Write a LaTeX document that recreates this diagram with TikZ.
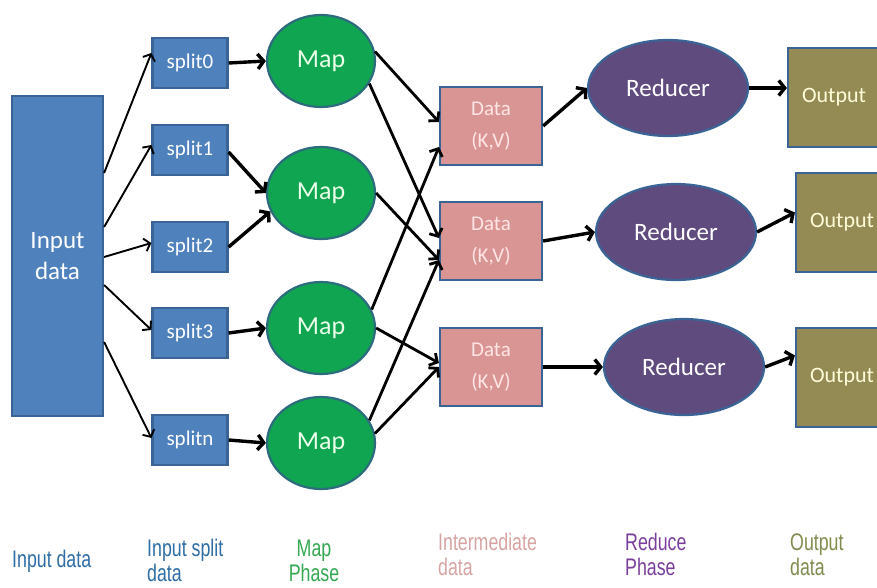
\documentclass[tikz,border=0pt]{standalone}
\usepackage{fontspec}
\setmainfont{Carlito}
\newfontfamily\lblfont[FakeStretch=0.74]{Liberation Sans}
\usetikzlibrary{arrows.meta,shapes.geometric}
\definecolor{bluefill}{HTML}{4F81BD}
\definecolor{blueedge}{HTML}{3B6496}
\definecolor{greenfill}{HTML}{10A550}
\definecolor{greenedge}{HTML}{2D6C7D}
\definecolor{pinkfill}{HTML}{D99594}
\definecolor{purplefill}{HTML}{5F4B7E}
\definecolor{olivefill}{HTML}{948A54}
\definecolor{lblblue}{HTML}{2E6DA6}
\definecolor{lblgreen}{HTML}{35A853}
\definecolor{lblpink}{HTML}{D8A3A3}
\definecolor{lblpurple}{HTML}{7A3E9D}
\definecolor{lblolive}{HTML}{7F8C4E}
\tikzset{
  box/.style={rectangle, line width=2.2pt, draw=blueedge, inner sep=0pt},
  inbox/.style={box, fill=bluefill, text=white, font=\fontsize{25}{31}\selectfont, align=center},
  splitbox/.style={box, fill=bluefill, text=white, minimum width=75pt, minimum height=50pt, font=\fontsize{21}{24}\selectfont},
  mapnode/.style={ellipse, line width=2.2pt, draw=greenedge, fill=greenfill, text={green!8!white}, minimum width=108pt, minimum height=92pt, inner sep=0pt, font=\fontsize{26}{28}\selectfont},
  databox/.style={box, fill=pinkfill, text={red!10!white}, minimum width=102pt, minimum height=78pt, align=center, font=\fontsize{21}{32}\selectfont},
  rednode/.style={ellipse, line width=2.2pt, draw=blueedge, fill=purplefill, text=white, minimum width=160pt, minimum height=96pt, inner sep=0pt, font=\fontsize{25}{28}\selectfont},
  outbox/.style={box, fill=olivefill, text={yellow!15!white}, minimum width=92pt, minimum height=99pt, font=\fontsize{22}{26}\selectfont},
  lbl/.style={inner sep=0pt, font=\lblfont\fontsize{24}{25}\selectfont},
  thinarr/.style={line width=1.9pt, -{Straight Barb[length=5.5pt,width=13pt]}},
  medarr/.style={line width=2.8pt, -{Straight Barb[length=6pt,width=14pt]}},
  thickarr/.style={line width=3.4pt, -{Straight Barb[length=6pt,width=15pt]}}
}
\begin{document}
\begin{tikzpicture}[x=1pt,y=-1pt]
\useasboundingbox (0,0) rectangle (877,587);
\clip (0,0) rectangle (877,587);
\fill[white] (0,0) rectangle (877,587);
% input
\node[inbox, minimum width=91pt, minimum height=320pt] (in) at (57.5,256) {Input\\data};
% splits
\node[splitbox] (s0) at (190,63) {split0};
\node[splitbox] (s1) at (190,150) {split1};
\node[splitbox] (s2) at (190,247) {split2};
\node[splitbox] (s3) at (190,333) {split3};
\node[splitbox] (sn) at (190,440) {splitn};
% maps
\node[mapnode] (m0) at (321,61) {Map};
\node[mapnode] (m1) at (321,193) {Map};
\node[mapnode] (m2) at (321,328) {Map};
\node[mapnode] (m3) at (321,443) {Map};
% data
\node[databox] (d1) at (491,126) {Data\\(K,V)};
\node[databox] (d2) at (491,241) {Data\\(K,V)};
\node[databox] (d3) at (491,367) {Data\\(K,V)};
% reducers
\node[rednode] (r1) at (668,88) {Reducer};
\node[rednode] (r2) at (676,232) {Reducer};
\node[rednode] (r3) at (684,367) {Reducer};
% outputs
\node[outbox] (o1) at (834,97.5) {Output};
\node[outbox] (o2) at (842,222.5) {Output};
\node[outbox] (o3) at (842,377.5) {Output};
% input -> splits
\draw[thinarr] ([yshift=83pt]in.east) -- ([yshift=10pt]s0.west);
\draw[thinarr] ([yshift=29pt]in.east) -- ([yshift=5pt]s1.west);
\draw[thinarr] ([yshift=-1pt]in.east) -- ([yshift=4pt]s2.west);
\draw[thinarr] ([yshift=-29pt]in.east) -- ([yshift=3pt]s3.west);
\draw[thinarr] ([yshift=-86pt]in.east) -- ([yshift=2pt]sn.west);
% splits -> maps
\draw[thickarr] (s0.east) -- (m0.west);
\draw[thickarr] ([yshift=-2pt]s1.east) -- (m1.west);
\draw[thickarr] (s2.east) -- (m1.200);
\draw[thickarr] (s3.east) -- (m2.west);
\draw[thickarr] (sn.east) -- (m3.west);
% maps -> data
\draw[medarr] (m0.10) -- ([yshift=4pt]d1.west);
\draw[medarr] (m0.-25) -- ([yshift=3pt]d2.west);
\draw[medarr] (m1.east) -- ([yshift=-19pt]d2.west);
\draw[medarr] (m2.20) -- ([yshift=-21pt]d1.west);
\draw[medarr] (m2.east) -- ([yshift=4pt]d3.west);
\draw[medarr] (m3.25) -- ([yshift=-19pt]d2.west);
\draw[medarr] (m3.10) -- (d3.west);
% data -> reducers
\draw[thickarr] (d1.east) -- (r1.west);
\draw[thickarr] (d2.east) -- (r2.west);
\draw[thickarr] (d3.east) -- (r3.west);
% reducers -> outputs
\draw[thickarr] (r1.east) -- ([yshift=9.5pt]o1.west);
\draw[thickarr] (r2.east) -- ([yshift=10pt]o2.west);
\draw[thickarr] (r3.east) -- ([yshift=22pt]o3.west);
% bottom labels
\node[lbl, text=lblblue, anchor=base west] (l1) at (12,567) {Input data};
\node[lbl, text=lblblue, anchor=base west] (l2a) at (147,556) {Input split};
\node[lbl, text=lblblue, anchor=base west] (l2b) at (147,581) {data};
\node[lbl, text=lblgreen, anchor=base] (l3a) at (314,556) {Map};
\node[lbl, text=lblgreen, anchor=base] (l3b) at (314,581) {Phase};
\node[lbl, text=lblpink, anchor=base west] (l4a) at (438,550) {Intermediate};
\node[lbl, text=lblpink, anchor=base west] (l4b) at (438,575) {data};
\node[lbl, text=lblpurple, anchor=base west] (l5a) at (625,550) {Reduce};
\node[lbl, text=lblpurple, anchor=base west] (l5b) at (625,575) {Phase};
\node[lbl, text=lblolive, anchor=base west] (l6a) at (790,550) {Output};
\node[lbl, text=lblolive, anchor=base west] (l6b) at (790,575) {data};
\end{tikzpicture}
\end{document}
